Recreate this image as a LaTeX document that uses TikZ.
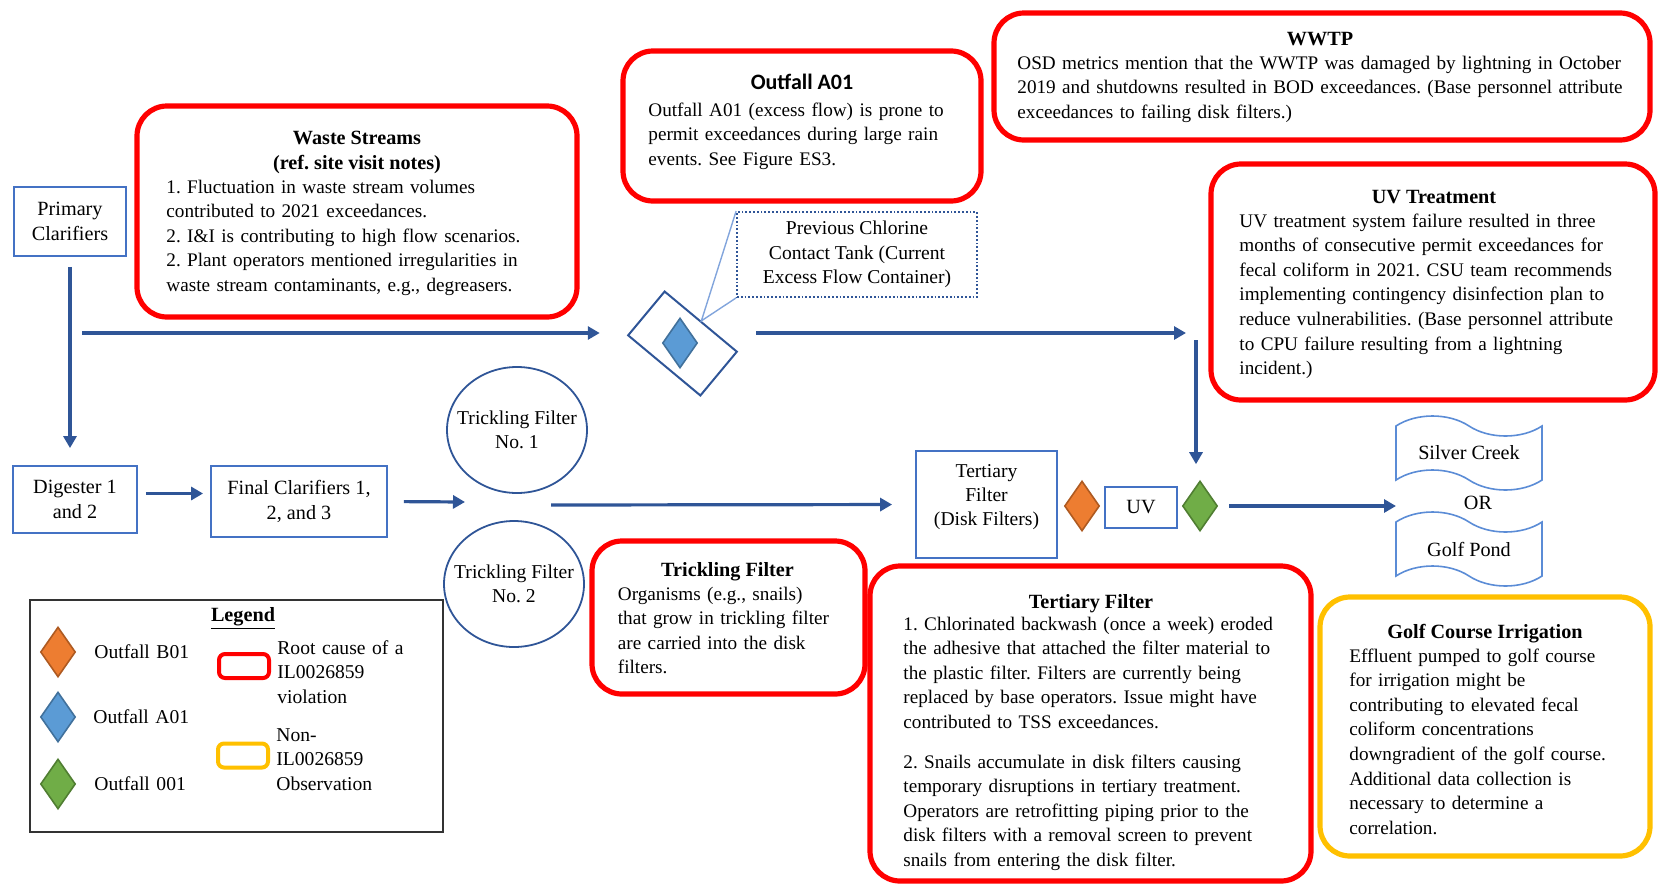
\documentclass[tikz,border=0pt]{standalone}
\usepackage{fontspec}
\setmainfont{Liberation Serif}
\newfontfamily\calibri{Carlito}
\usetikzlibrary{arrows.meta,shapes.geometric,shapes.symbols}
\frenchspacing

\definecolor{flowblue}{RGB}{47,85,151}
\definecolor{boxblue}{RGB}{68,114,196}
\definecolor{tapeblue}{RGB}{91,140,214}
\definecolor{leaderblue}{RGB}{130,165,220}
\definecolor{rootred}{RGB}{255,0,0}
\definecolor{obsyellow}{RGB}{255,192,0}
\definecolor{orfill}{RGB}{237,125,49}
\definecolor{ordraw}{RGB}{174,90,33}
\definecolor{blfill}{RGB}{91,155,213}
\definecolor{bldraw}{RGB}{65,113,156}
\definecolor{grfill}{RGB}{112,173,71}
\definecolor{grdraw}{RGB}{80,126,50}

\begin{document}
\begin{tikzpicture}[x=0.5pt,y=-0.5pt,
  every node/.style={font=\fontsize{10.1pt}{12.3pt}\selectfont},
  small/.style={font=\fontsize{9.8pt}{12.2pt}\selectfont},
  proc/.style={draw=boxblue,line width=0.9pt,align=center,inner sep=0pt},
  tank/.style={ellipse,draw=flowblue,line width=0.9pt,minimum width=70pt,minimum height=63pt,inner sep=0pt},
  flow/.style={draw=flowblue,line width=1.6pt,-{Triangle[length=6pt,width=6.5pt]}},
  outfall/.style={diamond,inner sep=0pt,minimum width=17.5pt,minimum height=25pt,line width=0.8pt},
  stream/.style={tape,draw=tapeblue,line width=0.8pt,tape bend top=out and in,tape bend bottom=out and in,
    tape bend height=10pt,minimum width=73pt,minimum height=37pt,inner sep=0pt},
  rootbox/.style={draw=rootred,line width=2.6pt,rounded corners=15pt,inner sep=0pt},
  obsbox/.style={draw=obsyellow,line width=2.6pt,rounded corners=15pt,inner sep=0pt},
  heading/.style={anchor=base,inner sep=0pt,font=\fontsize{10.1pt}{12.3pt}\selectfont\bfseries},
  body/.style={anchor=base west,inner sep=0pt,align=left,text width=330pt,
    font=\fontsize{9.6pt}{12.3pt}\selectfont},
  label/.style={anchor=base west,inner sep=0pt,align=left,text width=120pt,
    font=\fontsize{9.8pt}{12.3pt}\selectfont}
]
\useasboundingbox (0,0) rectangle (1658,884);

% ---------- process units ----------
\node[proc,minimum width=56pt,minimum height=34.5pt] (pc) at (70,221.5) {Primary\\Clarifiers};
\node[proc,minimum width=62pt,minimum height=33.5pt] (dg) at (75,499.5) {Digester 1\\and 2};
\node[proc,minimum width=88pt,minimum height=35.5pt] (fc) at (299,501.5) {Final Clarifiers 1,\\2, and 3};
\node[tank] (tf1) at (517,430) {};
\node[small,inner sep=0pt,align=center] (tf1txt) at (tf1) {Trickling Filter\\No. 1};
\node[tank] (tf2) at (514,584) {};
\node[small,inner sep=0pt,align=center] (tf2txt) at (tf2) {Trickling Filter\\No. 2};
\node[proc,minimum width=70.5pt,minimum height=53.5pt] (tf) at (986.5,504.5) {};
\node[small,inner sep=0pt,align=center] (tftxt) at (986.5,497) {Tertiary\\Filter\\(Disk Filters)};
\node[outfall,fill=orfill,draw=ordraw] (b01) at (1082,506) {};
\node[proc,minimum width=36pt,minimum height=20.5pt] (uv) at (1141,507.5) {UV};
\node[outfall,fill=grfill,draw=grdraw] (o001) at (1200,506) {};
\node[stream] (silver) at (1469,453) {Silver Creek};
\node[inner sep=0pt] (or) at (1478,503) {OR};
\node[stream] (pond) at (1469,549) {Golf Pond};

% excess flow container with outfall A01
\node[draw=flowblue,line width=1pt,rotate=-39.8,minimum width=47pt,minimum height=28.5pt,inner sep=0pt] (cont) at (682.5,343.5) {};
\node[outfall,fill=blfill,draw=bldraw] (a01) at (680,343) {};
\node[small,draw=flowblue,densely dotted,line width=0.9pt,minimum width=120pt,minimum height=42.5pt,align=center,inner sep=0pt] (pcct) at (857,254.5)
  {Previous Chlorine\\Contact Tank (Current\\Excess Flow Container)};
\draw[leaderblue,line width=0.7pt] (pcct.north west) -- (cont.north) -- (pcct.south west);

% ---------- flow connectors ----------
\coordinate (split) at (82,333);
\coordinate (bypass) at (756,333);
\coordinate (join) at (1196,333);
\coordinate (tfin) at (465,502);
\coordinate (tfout) at (551,505);
\coordinate (dest) at (1396,506);

\draw[flow,shorten <=5pt,shorten >=8.5pt] (pc.south) -- (pc.south |- dg.north);
\draw[flow,shorten >=13.5pt] (split) -- (split -| cont.south west);
\draw[flow,shorten >=5pt] (bypass) -- (join);
\draw[flow,shorten <=3.5pt,shorten >=8pt] (join) -- (join |- o001.north);
\draw[flow,shorten <=4pt,shorten >=3.5pt] ([yshift=3pt]dg.east) -- ([yshift=3pt]dg.east -| fc.west);
\draw[flow,shorten <=8pt] (fc.east) -- (tfin);
\draw[flow,shorten >=11.5pt] (tfout) -- (tf.west);
\draw[flow,shorten <=5.5pt] (o001.east) -- (dest);

% ---------- findings ----------
\node[rootbox,minimum width=220pt,minimum height=105.5pt] (wsbox) at (357,211.5) {};
\node[heading] (wst1) at (357,144.5) {Waste Streams};
\node[heading] (wst2) at (357,169) {(ref. site visit notes)};
\node[body] (wsbody) at (166,193) {1. Fluctuation in waste stream volumes\\
contributed to 2021 exceedances.\\
2. I\&I is contributing to high flow scenarios.\\
2. Plant operators mentioned irregularities in\\
waste stream contaminants, e.g., degreasers.};

\node[rootbox,minimum width=179pt,minimum height=75pt] (oabox) at (802,126) {};
\node[heading,font={\calibri\bfseries\fontsize{11pt}{13pt}\selectfont}] (oat) at (802,89) {Outfall A01};
\node[body] (oabody) at (648,116) {Outfall A01 (excess flow) is prone to\\
permit exceedances during large rain\\
events. See Figure ES3.};

\node[rootbox,minimum width=328pt,minimum height=63.5pt] (wwbox) at (1322,76.5) {};
\node[heading] (wwt) at (1320,45) {WWTP};
\node[body] (wwbody) at (1017,69) {OSD metrics mention that the WWTP was damaged by lightning in October\\
2019 and shutdowns resulted in BOD exceedances. (Base personnel attribute\\
exceedances to failing disk filters.)};

\node[rootbox,minimum width=222pt,minimum height=118pt] (uvbox) at (1433,282) {};
\node[heading] (uvt) at (1434,203) {UV Treatment};
\node[body] (uvbody) at (1239,227) {UV treatment system failure resulted in three\\
months of consecutive permit exceedances for\\
fecal coliform in 2021. CSU team recommends\\
implementing contingency disinfection plan to\\
reduce vulnerabilities. (Base personnel attribute\\
to CPU failure resulting from a lightning\\
incident.)};

\node[rootbox,minimum width=136.5pt,minimum height=76.5pt] (tcbox) at (728.5,617.5) {};
\node[heading] (tct) at (727.5,576) {Trickling Filter};
\node[body] (tcbody) at (617.5,600) {Organisms (e.g., snails)\\
that grow in trickling filter\\
are carried into the disk\\
filters.};

\node[rootbox,minimum width=220.5pt,minimum height=157.5pt] (tebox) at (1090.5,723.5) {};
\node[heading] (tet) at (1091,608) {Tertiary Filter};
\node[body] (tebody) at (903,630) {1. Chlorinated backwash (once a week) eroded\\
the adhesive that attached the filter material to\\
the plastic filter. Filters are currently being\\
replaced by base operators. Issue might have\\
contributed to TSS exceedances.\\[7.5pt]
2. Snails accumulate in disk filters causing\\
temporary disruptions in tertiary treatment.\\
Operators are retrofitting piping prior to the\\
disk filters with a removal screen to prevent\\
snails from entering the disk filter.};

\node[obsbox,minimum width=165pt,minimum height=129.5pt] (gcbox) at (1485,726.5) {};
\node[heading] (gct) at (1485,638) {Golf Course Irrigation};
\node[body] (gcbody) at (1349,662) {Effluent pumped to golf course\\
for irrigation might be\\
contributing to elevated fecal\\
coliform concentrations\\
downgradient of the golf course.\\
Additional data collection is\\
necessary to determine a\\
correlation.};

% ---------- legend ----------
\node[draw=black!80,line width=0.9pt,minimum width=206.5pt,minimum height=116pt,inner sep=0pt] (legend) at (236.5,716) {};
\node[heading] (legt) at (243,621) {\underline{Legend}};
\node[outfall,fill=orfill,draw=ordraw] (legb01) at (58,652) {};
\node[outfall,fill=blfill,draw=bldraw] (lega01) at (58,717) {};
\node[outfall,fill=grfill,draw=grdraw] (leg001) at (58,784) {};
\node[label] (legb01t) at (94,658) {Outfall B01};
\node[label] (lega01t) at (93,723) {Outfall A01};
\node[label] (leg001t) at (94,790) {Outfall 001};
\node[draw=rootred,line width=2pt,rounded corners=3pt,minimum width=25pt,minimum height=12pt,inner sep=0pt] (legroot) at (244,666) {};
\node[draw=obsyellow,line width=2pt,rounded corners=3pt,minimum width=25pt,minimum height=12pt,inner sep=0pt] (legobs) at (243,755.5) {};
\node[label] (legroott) at (277,654) {Root cause of a\\IL0026859\\violation};
\node[label] (legobst) at (276,741) {Non-\\IL0026859\\Observation};
\end{tikzpicture}
\end{document}
